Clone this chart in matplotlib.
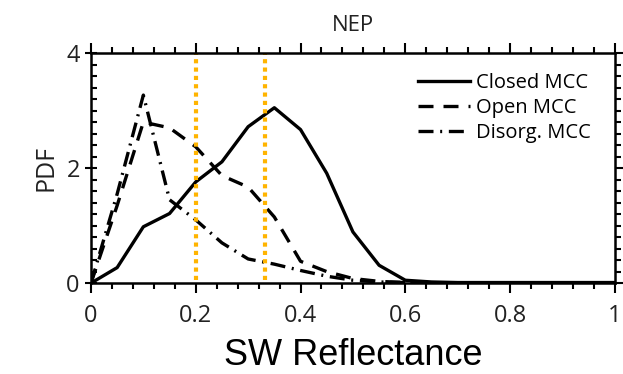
import numpy as np
import matplotlib
matplotlib.use("Agg")
import matplotlib.pyplot as plt
from matplotlib.ticker import MultipleLocator

# SW reflectance bins
refl = [0.0, 0.05, 0.10, 0.15, 0.20, 0.25, 0.30, 0.35, 0.40, 0.45, 0.50,
        0.55, 0.60, 0.65, 0.70, 0.75, 0.80, 0.85, 0.90, 0.95, 1.00]

closed_mcc = [0.0, 0.27, 0.98, 1.21, 1.76, 2.11, 2.72, 3.05, 2.67, 1.91, 0.89,
              0.31, 0.05, 0.02, 0.01, 0.01, 0.01, 0.01, 0.01, 0.01, 0.01]
open_mcc = [0.0, 1.35, 2.80, 2.70, 2.37, 1.87, 1.67, 1.15, 0.38, 0.20, 0.08,
            0.03, 0.01, 0.0, 0.0, 0.0, 0.0, 0.0, 0.0, 0.0, 0.0]
disorg_mcc = [0.0, 1.55, 3.27, 1.45, 1.10, 0.70, 0.42, 0.33, 0.22, 0.12, 0.05,
              0.02, 0.01, 0.0, 0.0, 0.0, 0.0, 0.0, 0.0, 0.0, 0.0]

# thresholds (vertical dotted lines)
thresholds = [0.2, 0.333]

x_ticks = [0, 0.2, 0.4, 0.6, 0.8, 1.0]
x_labels = ["0", "0.2", "0.4", "0.6", "0.8", "1"]
y_ticks = [0, 2, 4]
y_labels = ["0", "2", "4"]

tick_font = "Open Sans"


def main():
    fig = plt.figure(figsize=(6.23, 3.74), dpi=100)
    ax = fig.add_axes([0.146, 0.243, 0.841, 0.615])

    ax.plot(refl, closed_mcc, color="black", lw=2.4, ls="-", label="Closed MCC")
    ax.plot(refl, open_mcc, color="black", lw=2.4, ls=(0, (4.5, 3)), label="Open MCC")
    ax.plot(refl, disorg_mcc, color="black", lw=2.4,
            ls=(0, (4.5, 2, 0.6, 2)), label="Disorg. MCC")

    for t in thresholds:
        ax.plot([t, t], [0.05, 4.0], color="#FFB400", lw=3, ls=(0, (1, 1)))

    ax.set_xlim(0, 1)
    ax.set_ylim(0, 4)
    ax.set_xticks(x_ticks)
    ax.set_xticklabels(x_labels, fontsize=17, family=tick_font, color="#222222")
    ax.xaxis.set_minor_locator(MultipleLocator(0.04))
    ax.set_yticks(y_ticks)
    ax.set_yticklabels(y_labels, fontsize=17, family=tick_font, color="#222222")
    ax.yaxis.set_minor_locator(MultipleLocator(0.2))

    for s in ax.spines.values():
        s.set_linewidth(1.8)
    ax.tick_params(axis="x", which="both", direction="out", top=True, width=1.5)
    ax.tick_params(axis="x", which="major", length=7)
    ax.tick_params(axis="x", which="minor", length=4)
    ax.tick_params(axis="y", which="major", direction="inout", length=9, width=1.5)
    ax.tick_params(axis="y", which="minor", direction="in", length=4, width=1.5)
    ax.tick_params(axis="x", pad=8)

    # right-hand ticks pointing outward
    ax_r = ax.twinx()
    ax_r.set_ylim(0, 4)
    ax_r.set_yticks(y_ticks)
    ax_r.yaxis.set_minor_locator(MultipleLocator(0.2))
    ax_r.tick_params(axis="y", which="both", direction="out", width=1.5,
                     labelright=False)
    ax_r.tick_params(axis="y", which="major", length=6)
    ax_r.tick_params(axis="y", which="minor", length=4)
    for s in ax_r.spines.values():
        s.set_visible(False)

    ax.set_xlabel("SW Reflectance", fontsize=26, family="Liberation Sans",
                  labelpad=7)
    ax.set_ylabel("PDF", fontsize=18, family=tick_font, color="#222222",
                  labelpad=6)
    ax.set_title("NEP", fontsize=16, family=tick_font, color="#222222", pad=16)

    ax.legend(loc="upper right", frameon=False,
              prop={"family": tick_font, "size": 14.5},
              handlelength=2.6, handletextpad=0.3, labelspacing=0.25,
              borderaxespad=0.4, bbox_to_anchor=(0.985, 0.985))

    fig.savefig("out.png", dpi=100)


if __name__ == "__main__":
    main()
